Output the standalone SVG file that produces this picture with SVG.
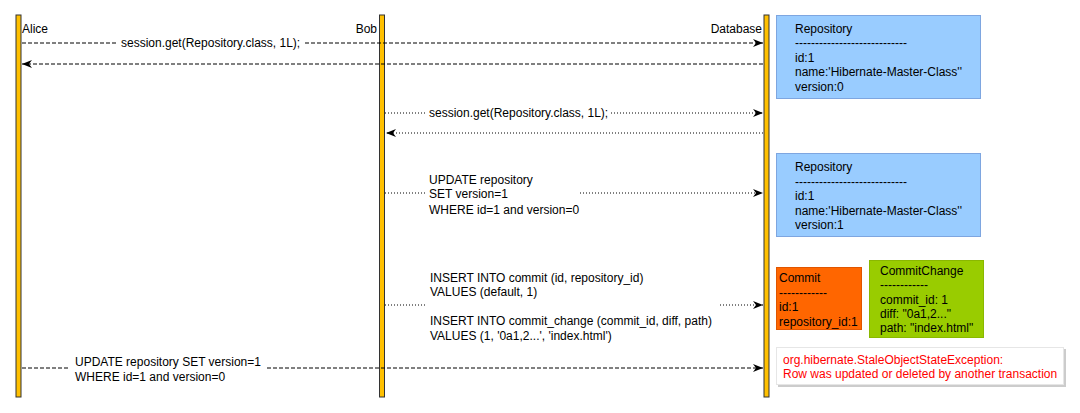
<svg xmlns="http://www.w3.org/2000/svg" width="1080" height="413" viewBox="0 0 1080 413">
<style>
text{font-family:"Liberation Sans",Arial,sans-serif;font-size:12px;fill:#000}
.bar{fill:#FFC000;stroke:#333;stroke-width:1}
.dash{stroke:#000;stroke-width:1;fill:none;stroke-dasharray:4 2}
.dot{stroke:#000;stroke-width:1;fill:none;stroke-dasharray:1 2}
.blue{fill:#99CCFF;stroke:#7EA6E0}
.red{fill:#FF0000}
</style>
<defs>
<marker id="ah" viewBox="0 0 10 8" refX="10" refY="4" markerWidth="10" markerHeight="8" markerUnits="userSpaceOnUse" orient="auto">
<path d="M0,0 L10,4 L0,8 L3,4 z" fill="#000"/>
</marker>
</defs>
<g id="alice">
<rect class="bar" x="16" y="15" width="5" height="382"/>
<text x="22" y="33">Alice</text>
</g>
<g id="bob">
<rect class="bar" x="379.5" y="15" width="5" height="382"/>
<text x="377" y="33" text-anchor="end">Bob</text>
</g>
<g id="database">
<rect class="bar" x="764" y="15" width="5" height="382"/>
<text x="762" y="33" text-anchor="end">Database</text>
</g>
<g id="connectors">
<path class="dash" d="M22,43 H118"/>
<path class="dash" d="M305,43 H763" marker-end="url(#ah)"/>
<text x="121" y="47">session.get(Repository.class, 1L);</text>
<path class="dash" d="M763,64 H22" marker-end="url(#ah)"/>
<path class="dot" d="M385,113 H425"/>
<path class="dot" d="M611,113 H763" marker-end="url(#ah)"/>
<text x="429" y="117">session.get(Repository.class, 1L);</text>
<path class="dot" d="M763,133 H386" marker-end="url(#ah)"/>
<path class="dot" d="M385,193 H425"/>
<path class="dot" d="M580,193 H763" marker-end="url(#ah)"/>
<text x="429" y="184">UPDATE repository</text>
<text x="429" y="198">SET version=1</text>
<text x="429" y="214">WHERE id=1 and version=0</text>
<path class="dot" d="M385,305 H425"/>
<path class="dot" d="M720,305 H763" marker-end="url(#ah)"/>
<text x="430" y="282">INSERT INTO commit (id, repository_id)</text>
<text x="430" y="296">VALUES (default, 1)</text>
<text x="430" y="325">INSERT INTO commit_change (commit_id, diff, path)</text>
<text x="430" y="340">VALUES (1, '0a1,2...', 'index.html')</text>
<path class="dash" d="M22,368 H68"/>
<path class="dash" d="M267,368 H763" marker-end="url(#ah)"/>
<text x="75" y="366">UPDATE repository SET version=1</text>
<text x="75" y="381">WHERE id=1 and version=0</text>
</g>
<g id="repo1">
<rect class="blue" x="776.5" y="15.5" width="204" height="83"/>
<text x="795" y="33">Repository</text>
<text x="795" y="47">----------------------------</text>
<text x="795" y="62">id:1</text>
<text x="795" y="76">name:'Hibernate-Master-Class''</text>
<text x="795" y="91">version:0</text>
</g>
<g id="repo2">
<rect class="blue" x="776.5" y="153.5" width="204" height="83"/>
<text x="795" y="171">Repository</text>
<text x="795" y="186">----------------------------</text>
<text x="795" y="200">id:1</text>
<text x="795" y="215">name:'Hibernate-Master-Class''</text>
<text x="795" y="229">version:1</text>
</g>
<g id="commit">
<rect x="776.5" y="267.5" width="85" height="62" fill="#FF6600" stroke="#E05500"/>
<text x="779" y="282">Commit</text>
<text x="779" y="297">------------</text>
<text x="779" y="311">id:1</text>
<text x="779" y="326">repository_id:1</text>
</g>
<g id="commitchange">
<rect x="869.5" y="260.5" width="114" height="77" fill="#99CC00" stroke="#8AB800"/>
<text x="880" y="275">CommitChange</text>
<text x="880" y="289">------------</text>
<text x="880" y="304">commit_id: 1</text>
<text x="880" y="318">diff: "0a1,2..."</text>
<text x="880" y="332">path: "index.html"</text>
</g>
<g id="exception">
<rect x="778" y="349" width="288" height="38" fill="#CCCCCC"/>
<rect x="776.5" y="347.5" width="287" height="37" fill="#FFFFFF" stroke="#E6E6E6"/>
<text class="red" x="783" y="364">org.hibernate.StaleObjectStateException:</text>
<text class="red" x="783" y="378">Row was updated or deleted by another transaction</text>
</g>
</svg>
